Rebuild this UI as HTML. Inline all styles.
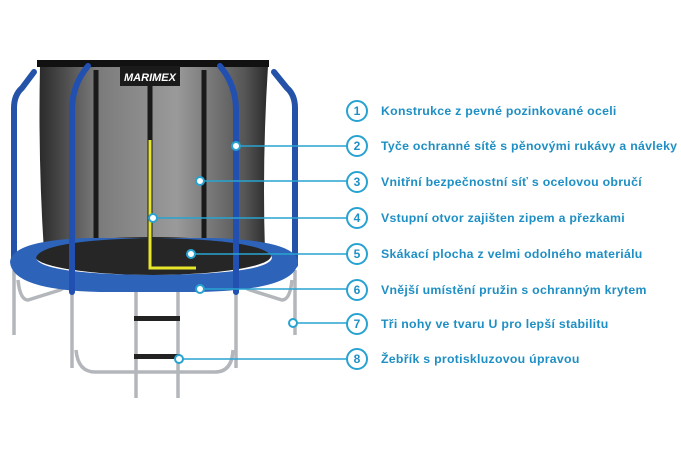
<!DOCTYPE html>
<html><head><meta charset="utf-8"><style>
body{margin:0;background:#fff;width:681px;height:450px;overflow:hidden;font-family:"Liberation Sans",sans-serif}
svg{position:absolute;left:0;top:0}
</style></head><body>
<svg width="681" height="450" viewBox="0 0 681 450">
<defs>
<linearGradient id="net" x1="0" x2="1" y1="0" y2="0">
<stop offset="0" stop-color="#2a2a2a"/><stop offset="0.25" stop-color="#7a7a7a"/><stop offset="0.6" stop-color="#9a9a9a"/><stop offset="0.9" stop-color="#555"/><stop offset="1" stop-color="#2a2a2a"/></linearGradient>
</defs>
<g stroke="#b3b6ba" stroke-width="3.5" fill="none">
<path d="M14 270 V335"/><path d="M18 280 Q20 300 28 300 L60 290 Q70 285 72 275"/>
<path d="M295 270 V335"/><path d="M292 280 Q290 300 282 300 L250 290 Q238 285 236 275"/>
<path d="M72 290 V368"/><path d="M236 290 V368"/>
<path d="M76 350 Q78 372 95 372 H215 Q232 372 233 350"/>
<path d="M136 292 V398"/><path d="M178 292 V398"/>
</g>
<rect x="134" y="316" width="46" height="5" fill="#222"/>
<rect x="134" y="354" width="46" height="5" fill="#222"/>
<g stroke="#2452a8" stroke-width="6" fill="none" stroke-linecap="round">
<path d="M14 265 V108 Q14 95 22 88 L34 72"/>
<path d="M295 265 V108 Q295 95 287 88 L274 72"/>
</g>
<path d="M40 66 H268 Q262 160 265 252 H44 Q38 160 40 66Z" fill="url(#net)"/>
<rect x="37" y="60" width="232" height="7" fill="#111"/>
<g stroke="#1a1a1a" stroke-width="5"><path d="M96 70 V250"/><path d="M204 70 V250"/><path d="M150 85 V265"/></g>
<rect x="120" y="66" width="60" height="20" fill="#1a1a1a"/>
<text x="150" y="81" fill="#fff" font-size="11" font-weight="bold" font-style="italic" text-anchor="middle">MARIMEX</text>
<ellipse cx="153" cy="256" rx="118" ry="19" fill="#262626"/>
<path d="M150 140 V268 H196" stroke="#e6e62a" stroke-width="3" fill="none"/>
<path d="M10 262 Q12 240 90 238 L210 238 Q296 240 298 262 Q296 290 200 292 H100 Q12 290 10 262Z M36 258 Q40 274 153 275 Q268 274 272 258 Q268 240 153 238 Q40 240 36 258Z" fill="#2d63b8" fill-rule="evenodd"/>
<g stroke="#2150b0" stroke-width="6" fill="none" stroke-linecap="round">
<path d="M72 292 V110 Q72 85 88 66"/>
<path d="M236 292 V110 Q236 85 220 66"/>
</g>
<g stroke="#28a3d1" stroke-width="1.6" fill="none">
<path d="M236 146 H347"/><path d="M200 181 H347"/><path d="M153 218 H347"/><path d="M191 254 H347"/>
<path d="M200 289 H347"/><path d="M293 323 H347"/><path d="M179 359 H347"/>
</g>
<g stroke="#28a3d1" stroke-width="2" fill="#fff">
<circle cx="236" cy="146" r="4"/><circle cx="200" cy="181" r="4"/><circle cx="153" cy="218" r="4"/><circle cx="191" cy="254" r="4"/>
<circle cx="200" cy="289" r="4"/><circle cx="293" cy="323" r="4"/><circle cx="179" cy="359" r="4"/>
</g>
<g stroke="#28a3d1" stroke-width="2" fill="#fff">
<circle cx="357" cy="111" r="10"/><circle cx="357" cy="146" r="10"/><circle cx="357" cy="182" r="10"/><circle cx="357" cy="218" r="10"/>
<circle cx="357" cy="254" r="10"/><circle cx="357" cy="290" r="10"/><circle cx="357" cy="324" r="10"/><circle cx="357" cy="359" r="10"/>
</g>
<g fill="#1e8fc4" font-size="12" font-weight="bold" text-anchor="middle">
<text x="357" y="115">1</text><text x="357" y="150">2</text><text x="357" y="186">3</text><text x="357" y="222">4</text>
<text x="357" y="258">5</text><text x="357" y="294">6</text><text x="357" y="328">7</text><text x="357" y="363">8</text>
</g>
<g fill="#1e8fc4" font-size="12.3" font-weight="bold" letter-spacing="0.28">
<text x="381" y="115">Konstrukce z pevné pozinkované oceli</text>
<text x="381" y="150">Tyče ochranné sítě s pěnovými rukávy a návleky</text>
<text x="381" y="186">Vnitřní bezpečnostní síť s ocelovou obručí</text>
<text x="381" y="222">Vstupní otvor zajišten zipem a přezkami</text>
<text x="381" y="258">Skákací plocha z velmi odolného materiálu</text>
<text x="381" y="294">Vnější umístění pružin s ochranným krytem</text>
<text x="381" y="328">Tři nohy ve tvaru U pro lepší stabilitu</text>
<text x="381" y="363">Žebřík s protiskluzovou úpravou</text>
</g>
</svg>
</body></html>
